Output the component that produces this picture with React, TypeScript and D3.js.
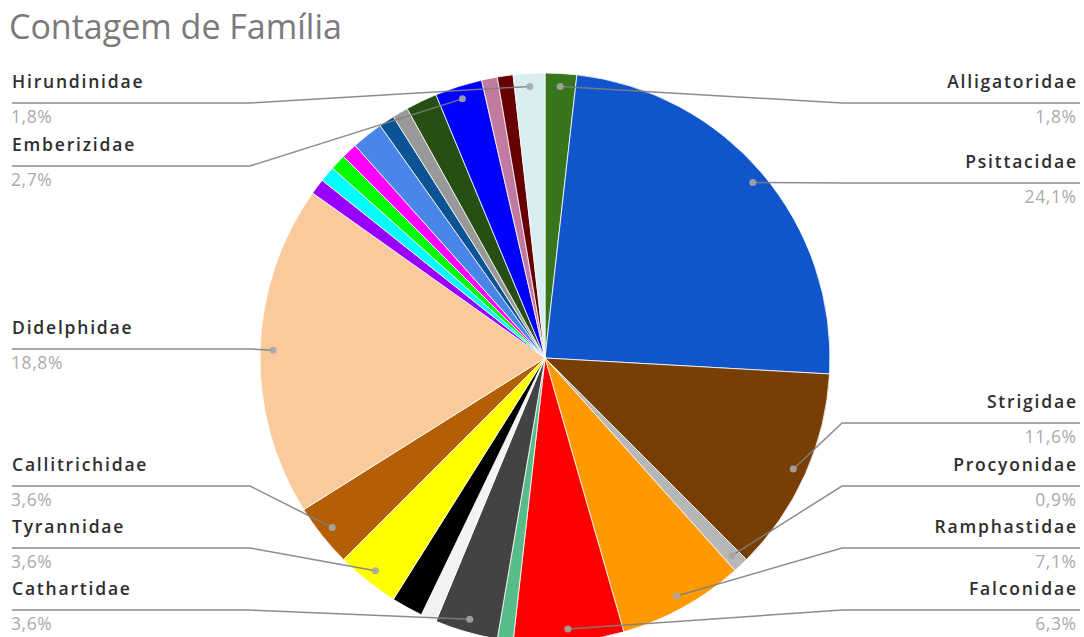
import React from 'react';
import * as d3 from 'd3';

// ---- data ----
const families: string[] = [
  'Alligatoridae', 'Psittacidae', 'Strigidae', 'Procyonidae', 'Ramphastidae',
  'Falconidae', 'Família 7', 'Cathartidae', 'Família 9', 'Família 10',
  'Tyrannidae', 'Callitrichidae', 'Didelphidae', 'Família 14', 'Família 15',
  'Família 16', 'Família 17', 'Família 18', 'Família 19', 'Família 20',
  'Família 21', 'Emberizidae', 'Família 23', 'Família 24', 'Hirundinidae',
];
const counts: number[] = [
  2, 27, 13, 1, 8,
  7, 1, 4, 1, 2,
  4, 4, 21, 1, 1,
  1, 1, 2, 1, 1,
  2, 3, 1, 1, 2,
];
const sliceColors: string[] = [
  '#38761d', '#1155cc', '#783f04', '#b7b7b7', '#ff9900',
  '#ff0000', '#57bb8a', '#434343', '#f3f3f3', '#000000',
  '#ffff00', '#b45f06', '#f9cb9c', '#9900ff', '#00ffff',
  '#00ff00', '#ff00ff', '#4a86e8', '#0b5394', '#999999',
  '#274e13', '#0000ff', '#c27ba0', '#660000', '#d9eef0',
];
const title = 'Contagem de Família';

// ---- label layout (positions only) ----
const labelLayout: Record<string, { side: 'left' | 'right'; lineY: number }> = {
  Hirundinidae: { side: 'left', lineY: 103 },
  Emberizidae: { side: 'left', lineY: 166 },
  Didelphidae: { side: 'left', lineY: 349 },
  Callitrichidae: { side: 'left', lineY: 486 },
  Tyrannidae: { side: 'left', lineY: 548 },
  Cathartidae: { side: 'left', lineY: 610 },
  Alligatoridae: { side: 'right', lineY: 103 },
  Psittacidae: { side: 'right', lineY: 183 },
  Strigidae: { side: 'right', lineY: 423 },
  Procyonidae: { side: 'right', lineY: 486 },
  Ramphastidae: { side: 'right', lineY: 548 },
  Falconidae: { side: 'right', lineY: 610 },
};

const W = 1084;
const H = 637;
const CX = 545;
const CY = 358;
const R = 285;

export default function App() {
  const total = d3.sum(counts);
  const data = families.map((f, i) => ({ name: f, value: counts[i], color: sliceColors[i] }));
  const pie = d3.pie<any>().value((d: any) => d.value).sort(null);
  const arcs = pie(data);
  const arc = d3.arc<any>().innerRadius(0).outerRadius(R);
  const dotArc = d3.arc<any>().innerRadius(R - 13).outerRadius(R - 13);
  const fmt = (v: number) => (v / total * 100).toFixed(1).replace('.', ',') + '%';

  const font = "'Open Sans', sans-serif";
  const nameLS = 1.8;
  const pctLS = 0.6;

  return (
    <svg width={W} height={H} style={{ position: 'absolute', left: 0, top: 0, background: '#fff' }}>
      <rect x={0} y={0} width={W} height={H} fill="#fff" />
      <text x={9} y={39} fontFamily={font} fontSize={34} fill="#7a7a7a">{title}</text>
      <g transform={`translate(${CX},${CY})`}>
        {arcs.map((a, i) => (
          <path key={i} d={arc(a) as string} fill={a.data.color} stroke="#ffffff" strokeWidth={0.8} />
        ))}
      </g>
      {arcs.map((a, i) => {
        const lay = labelLayout[a.data.name];
        if (!lay) return null;
        const [dx, dy] = dotArc.centroid(a);
        const px = CX + dx;
        const py = CY + dy;
        const left = lay.side === 'left';
        const x0 = left ? 12 : 1080;
        const ex = left ? 250 : 842;
        const pts = `${x0},${lay.lineY} ${ex},${lay.lineY} ${px},${py}`;
        return (
          <g key={'l' + i}>
            <polyline points={pts} fill="none" stroke="#7f7f7f" strokeWidth={1.5} strokeOpacity={0.9} />
            <circle cx={px} cy={py} r={3.5} fill="#a6a6a6" fillOpacity={0.9} />
            <text x={left ? 12 : 1076 + nameLS} y={lay.lineY - 15} textAnchor={left ? 'start' : 'end'}
              fontFamily={font} fontWeight={600} fontSize={17.5} letterSpacing={nameLS} fill="#2e2e2e">{a.data.name}</text>
            <text x={left ? 11 : 1076 + pctLS} y={lay.lineY + 20} textAnchor={left ? 'start' : 'end'}
              fontFamily={font} fontSize={17.5} letterSpacing={pctLS} fill="#ababab">{fmt(a.data.value)}</text>
          </g>
        );
      })}
    </svg>
  );
}
